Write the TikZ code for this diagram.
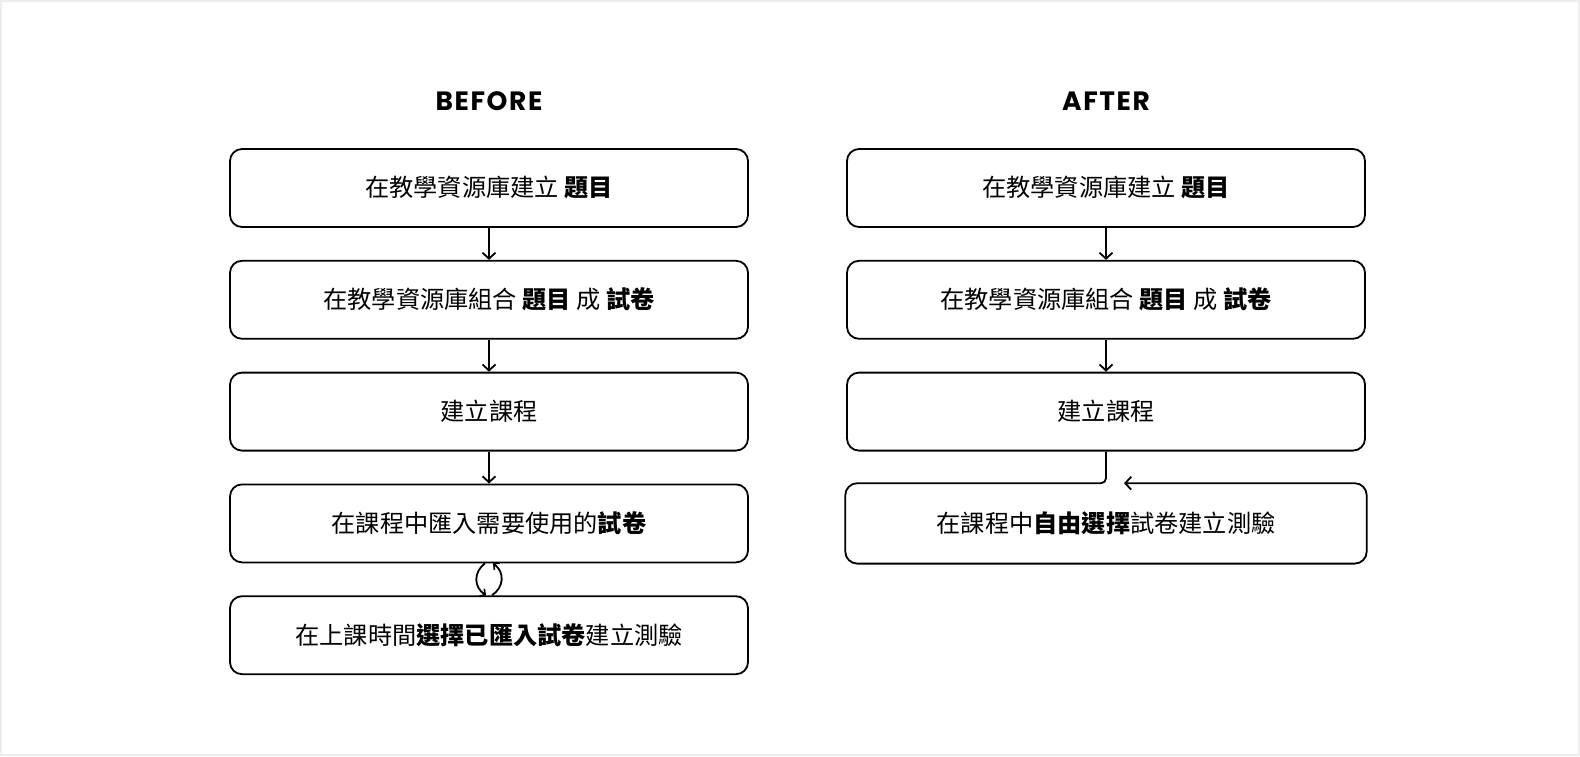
\documentclass[tikz,border=0pt]{standalone}
\usepackage{fontspec}
\setmainfont{Noto Sans CJK TC}
\newfontfamily\titlefont[LetterSpace=6]{Poppins}
\usetikzlibrary{arrows.meta}
\tikzstyle{base} = [rectangle, rounded corners=12pt, minimum width=518pt, minimum height=78pt, text centered, font=\fontsize{24.2}{29}\selectfont]
\tikzstyle{stepbox} = [base, draw=black, line width=1.8pt]
\tikzstyle{heading} = [font=\titlefont\bfseries\fontsize{26.5}{30}\selectfont]
\tikzstyle{flow} = [line width=1.8pt, -{Straight Barb[length=6pt,width=13pt,line width=1.8pt]}]

\begin{document}
\begin{tikzpicture}[x=1pt, y=1pt, node distance=111.8pt]
  \useasboundingbox (0,0) rectangle (1580,-756);
  \draw[draw=black!7, line width=2pt] (1,-1) rectangle (1579,-755);

  % before
  \node (before) [heading] at (489,-101) {BEFORE};
  \node (b1) [stepbox] at (489,-188) {在教學資源庫建立 \textbf{題目}};
  \node (b2) [stepbox, below of=b1] {在教學資源庫組合 \textbf{題目} 成 \textbf{試卷}};
  \node (b3) [stepbox, below of=b2] {建立課程};
  \node (b4) [stepbox, below of=b3] {在課程中匯入需要使用的\textbf{試卷}};
  \node (b5) [stepbox, below of=b4] {在上課時間\textbf{選擇已匯入試卷}建立測驗};

  \draw[flow] (b1) -- (b2);
  \draw[flow] (b2) -- (b3);
  \draw[flow] (b3) -- (b4);
  % refresh loop between b4 and b5
  \draw[flow, -{Straight Barb[length=4pt,width=9pt,line width=1.6pt]}] ([xshift=-4pt]b4.south) .. controls ([xshift=-16pt,yshift=-9pt]b4.south) and ([xshift=-15pt,yshift=8pt]b5.north) .. ([xshift=-3pt]b5.north);
  \draw[flow, -{Straight Barb[length=4pt,width=9pt,line width=1.6pt]}] ([xshift=3pt]b5.north) .. controls ([xshift=15pt,yshift=8pt]b5.north) and ([xshift=16pt,yshift=-9pt]b4.south) .. ([xshift=4pt]b4.south);

  % after
  \node (after) [heading] at (1106,-101) {AFTER};
  \node (a1) [stepbox] at (1106,-188) {在教學資源庫建立 \textbf{題目}};
  \node (a2) [stepbox, below of=a1] {在教學資源庫組合 \textbf{題目} 成 \textbf{試卷}};
  \node (a3) [stepbox, below of=a2] {建立課程};
  \node (a4) [base, minimum width=521pt, minimum height=80pt, below of=a3] {在課程中\textbf{自由選擇}試卷建立測驗};

  \draw[flow] (a1) -- (a2);
  \draw[flow] (a2) -- (a3);
  \draw[flow] (a3.south) [rounded corners=5pt] |- ([xshift=-20pt]a4.north) [rounded corners=12pt] -- (a4.north west) -- (a4.south west) -- (a4.south east) -- (a4.north east) -- ([xshift=18pt]a4.north);
\end{tikzpicture}
\end{document}
